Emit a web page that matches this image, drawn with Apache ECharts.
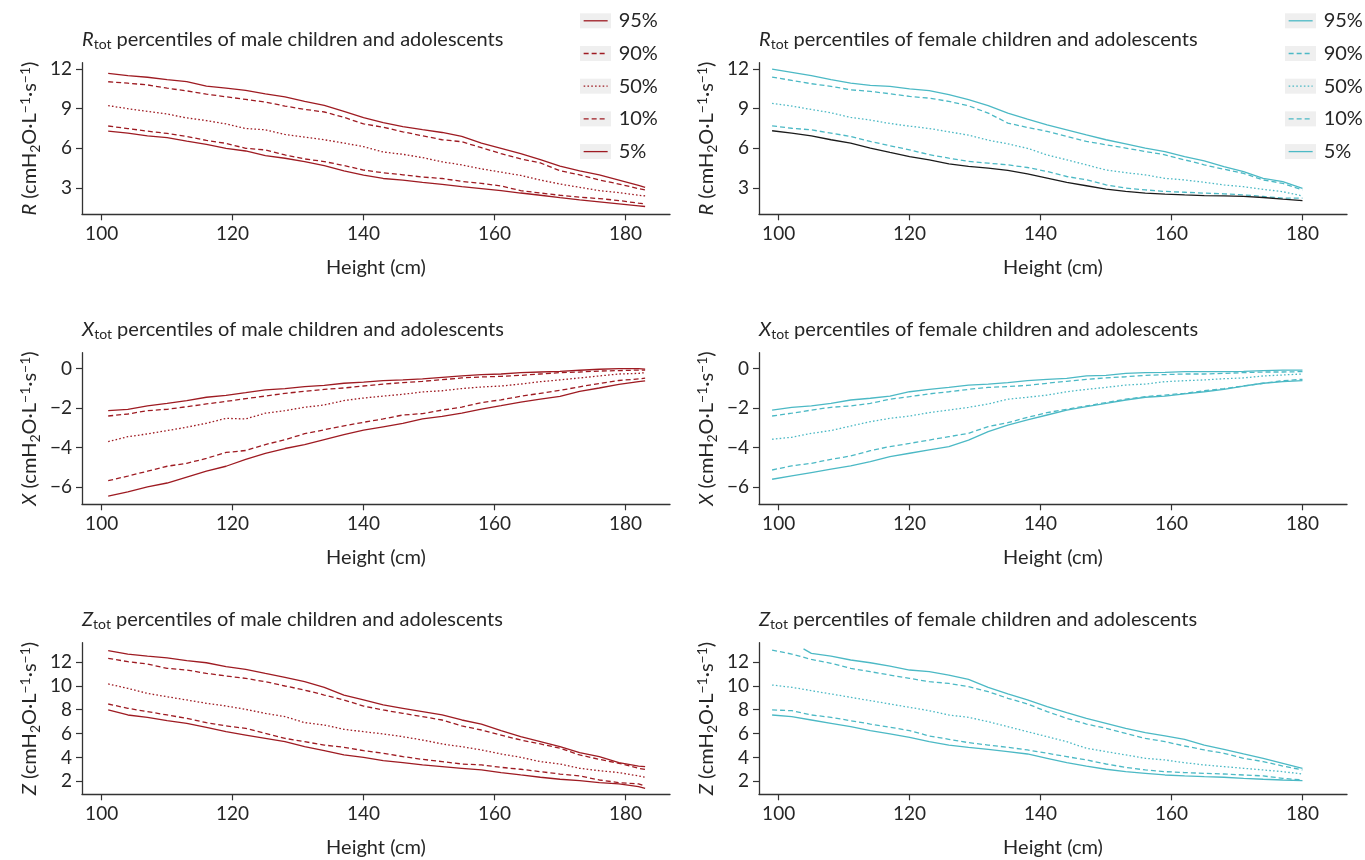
<!DOCTYPE html>
<html><head><meta charset="utf-8">
<script src="https://cdn.jsdelivr.net/npm/echarts@6/dist/echarts.min.js"></script>
<style>html,body{margin:0;padding:0;background:#fff}#c{width:1365px;height:860px}</style>
</head><body><div id="c"></div>
<script>
// ---------------- data ----------------
const heightsMale = [101,104,107,110,113,116,119,122,125,128,131,134,137,140,143,146,149,152,155,158,161,164,167,170,173,176,179,182,183];
const heightsFemale = [99,102,105,108,111,114,117,120,123,126,129,132,135,138,141,144,147,150,153,156,159,162,165,168,171,174,177,180];
const percentiles = ['95%','90%','50%','10%','5%'];
const xTicks = [100,120,140,160,180];
const rTicks = [3,6,9,12];
const xTicksX = [-6,-4,-2,0];
const zTicks = [2,4,6,8,10,12];

const maleR95 = [11.67,11.5,11.38,11.2,11.05,10.7,10.55,10.38,10.12,9.9,9.55,9.25,8.8,8.32,7.95,7.65,7.42,7.2,6.9,6.4,6.0,5.6,5.15,4.66,4.3,4.0,3.6,3.2,3.05];
const maleR90 = [11.04,10.93,10.8,10.55,10.35,10.1,9.9,9.7,9.5,9.2,8.95,8.75,8.35,7.85,7.6,7.25,6.95,6.65,6.5,6.05,5.6,5.2,4.9,4.3,4.0,3.6,3.3,2.95,2.85];
const maleR50 = [9.23,9.0,8.8,8.6,8.3,8.1,7.85,7.5,7.4,7.05,6.85,6.65,6.4,6.13,5.72,5.55,5.3,4.98,4.75,4.45,4.2,3.95,3.6,3.3,3.05,2.8,2.65,2.45,2.4];
const maleR10 = [7.69,7.5,7.3,7.13,6.9,6.6,6.38,6.0,5.88,5.5,5.2,5.0,4.7,4.36,4.15,4.0,3.83,3.72,3.5,3.35,3.15,2.8,2.62,2.45,2.3,2.2,2.05,1.85,1.8];
const maleR5 = [7.31,7.15,6.95,6.81,6.55,6.3,6.0,5.8,5.45,5.25,5.0,4.7,4.3,3.98,3.72,3.6,3.43,3.28,3.1,2.95,2.8,2.62,2.45,2.27,2.1,1.95,1.8,1.65,1.6];

const femaleR95 = [12.0,11.75,11.5,11.2,10.94,10.76,10.69,10.5,10.36,10.06,9.68,9.23,8.67,8.21,7.78,7.4,7.02,6.65,6.34,6.02,5.76,5.38,5.05,4.62,4.24,3.73,3.48,2.97];
const femaleR90 = [11.39,11.14,10.89,10.69,10.43,10.31,10.13,9.93,9.8,9.55,9.22,8.67,7.91,7.58,7.28,6.9,6.52,6.27,6.02,5.76,5.51,5.13,4.75,4.42,4.11,3.61,3.35,2.85];
const femaleR50 = [9.4,9.2,8.94,8.69,8.34,8.14,7.88,7.68,7.5,7.25,7.0,6.62,6.34,6.0,5.5,5.13,4.75,4.36,4.16,3.99,3.73,3.61,3.43,3.23,3.1,2.9,2.72,2.4];
const femaleR10 = [7.7,7.52,7.4,7.15,6.9,6.52,6.2,5.89,5.52,5.26,5.01,4.88,4.75,4.55,4.25,3.87,3.62,3.24,2.99,2.86,2.74,2.68,2.61,2.56,2.48,2.36,2.23,2.23];
const femaleR5 = [7.33,7.15,6.95,6.65,6.39,6.02,5.69,5.38,5.13,4.83,4.63,4.5,4.33,4.07,3.75,3.42,3.17,2.92,2.74,2.61,2.54,2.48,2.43,2.41,2.36,2.28,2.16,2.05];

const maleX95 = [-2.13,-2.06,-1.89,-1.76,-1.62,-1.45,-1.35,-1.22,-1.08,-1.01,-0.91,-0.85,-0.74,-0.68,-0.61,-0.57,-0.52,-0.44,-0.37,-0.3,-0.27,-0.2,-0.17,-0.14,-0.08,-0.03,0.0,0.0,-0.02];
const maleX90 = [-2.4,-2.3,-2.13,-2.06,-1.93,-1.79,-1.66,-1.52,-1.39,-1.25,-1.15,-1.05,-0.98,-0.88,-0.78,-0.71,-0.64,-0.56,-0.47,-0.42,-0.39,-0.34,-0.27,-0.2,-0.17,-0.12,-0.1,-0.07,-0.07];
const maleX50 = [-3.7,-3.45,-3.31,-3.14,-2.97,-2.77,-2.52,-2.55,-2.26,-2.13,-1.96,-1.84,-1.62,-1.49,-1.39,-1.3,-1.18,-1.12,-1.01,-0.93,-0.88,-0.78,-0.66,-0.57,-0.47,-0.37,-0.27,-0.24,-0.2];
const maleX10 = [-5.68,-5.45,-5.2,-4.95,-4.8,-4.55,-4.25,-4.15,-3.85,-3.6,-3.3,-3.1,-2.9,-2.72,-2.55,-2.35,-2.28,-2.1,-1.95,-1.72,-1.58,-1.4,-1.25,-1.1,-0.92,-0.75,-0.6,-0.52,-0.48];
const maleX5 = [-6.46,-6.25,-6.0,-5.8,-5.5,-5.2,-4.95,-4.6,-4.3,-4.05,-3.85,-3.6,-3.35,-3.12,-2.95,-2.78,-2.55,-2.42,-2.25,-2.05,-1.88,-1.7,-1.55,-1.4,-1.15,-0.98,-0.8,-0.66,-0.62];

const femaleX95 = [-2.1,-1.96,-1.89,-1.76,-1.59,-1.5,-1.39,-1.17,-1.05,-0.95,-0.83,-0.78,-0.71,-0.61,-0.54,-0.49,-0.37,-0.34,-0.24,-0.2,-0.19,-0.15,-0.15,-0.15,-0.14,-0.1,-0.07,-0.07];
const femaleX90 = [-2.4,-2.26,-2.1,-1.96,-1.89,-1.76,-1.55,-1.42,-1.28,-1.17,-1.05,-0.95,-0.91,-0.85,-0.74,-0.64,-0.54,-0.47,-0.41,-0.34,-0.3,-0.27,-0.27,-0.24,-0.2,-0.17,-0.17,-0.15];
const femaleX50 = [-3.58,-3.48,-3.28,-3.14,-2.91,-2.69,-2.52,-2.4,-2.23,-2.1,-1.96,-1.79,-1.55,-1.45,-1.34,-1.17,-1.05,-0.95,-0.83,-0.78,-0.66,-0.61,-0.57,-0.51,-0.47,-0.37,-0.32,-0.27];
const femaleX10 = [-5.14,-4.93,-4.8,-4.6,-4.43,-4.16,-3.95,-3.79,-3.62,-3.45,-3.28,-2.94,-2.74,-2.47,-2.23,-2.06,-1.89,-1.72,-1.55,-1.42,-1.34,-1.25,-1.12,-1.01,-0.88,-0.74,-0.61,-0.54];
const femaleX5 = [-5.61,-5.44,-5.27,-5.1,-4.93,-4.72,-4.46,-4.29,-4.12,-3.95,-3.62,-3.19,-2.86,-2.6,-2.35,-2.1,-1.93,-1.76,-1.59,-1.45,-1.39,-1.28,-1.17,-1.05,-0.88,-0.74,-0.66,-0.61];

const maleZ95 = [12.95,12.67,12.5,12.34,12.11,11.94,11.61,11.39,11.05,10.72,10.35,9.88,9.23,8.82,8.4,8.12,7.84,7.56,7.14,6.8,6.25,5.74,5.32,4.9,4.4,4.07,3.56,3.28,3.23];
const maleZ90 = [12.31,12.03,11.83,11.47,11.33,11.05,10.83,10.63,10.35,9.99,9.65,9.23,8.82,8.31,7.98,7.7,7.42,7.14,6.64,6.3,5.88,5.46,5.13,4.77,4.21,3.84,3.51,3.09,3.0];
const maleZ50 = [10.16,9.79,9.37,9.09,8.82,8.54,8.31,8.03,7.7,7.42,6.92,6.72,6.36,6.16,5.97,5.74,5.46,5.13,4.9,4.63,4.29,4.01,3.65,3.45,3.09,2.89,2.73,2.45,2.34];
const maleZ10 = [8.48,8.12,7.84,7.56,7.28,6.92,6.64,6.44,6.02,5.6,5.32,5.04,4.85,4.57,4.35,4.07,3.84,3.65,3.45,3.37,3.17,3.01,2.81,2.61,2.45,2.11,1.89,1.78,1.61];
const maleZ5 = [7.98,7.56,7.36,7.08,6.86,6.53,6.16,5.88,5.6,5.32,4.9,4.57,4.21,4.01,3.73,3.56,3.37,3.23,3.09,2.95,2.73,2.53,2.34,2.17,2.06,1.89,1.78,1.56,1.41];

const femaleZ95Start = [103.8, 13.1];
const femaleZ95 = [null,null,12.73,12.5,12.17,11.94,11.66,11.33,11.19,10.91,10.55,9.88,9.32,8.82,8.26,7.75,7.28,6.86,6.44,6.08,5.8,5.52,5.04,4.68,4.29,3.93,3.51,3.09];
const femaleZ90 = [13.0,12.67,12.22,11.89,11.47,11.19,10.91,10.63,10.35,10.21,9.93,9.51,8.96,8.48,7.84,7.28,6.8,6.44,6.02,5.6,5.32,4.96,4.63,4.35,3.93,3.65,3.28,2.95];
const femaleZ50 = [10.07,9.88,9.6,9.32,9.04,8.76,8.48,8.2,7.92,7.56,7.36,7.0,6.58,6.16,5.74,5.32,4.77,4.49,4.21,3.93,3.79,3.56,3.37,3.23,3.09,2.95,2.81,2.61];
const femaleZ10 = [7.98,7.92,7.56,7.36,7.08,6.8,6.53,6.25,5.8,5.52,5.24,5.04,4.85,4.63,4.35,4.07,3.79,3.45,3.17,2.95,2.81,2.73,2.67,2.61,2.53,2.45,2.25,2.11];
const femaleZ5 = [7.56,7.42,7.14,6.86,6.58,6.25,5.97,5.69,5.32,5.04,4.85,4.68,4.49,4.29,3.93,3.56,3.28,3.01,2.81,2.67,2.53,2.45,2.39,2.34,2.25,2.17,2.11,2.06];

// ---------------- styling ----------------
const FONT = 'Lato';
const FS = 20;       // words
const FSN = 19;      // tick numbers
const RED = '#9e1b22';
const TEAL = '#4cb9c5';
const BLACK = '#1b1b1b';
const TXT = '#262626';
const AX = '#333333';
const dashTypes = ['solid', [5, 3], [1.6, 2.2], [5, 3], 'solid'];

const colLeft = [82, 759];
const gridW = 588;
const rowTop = [62.7, 352.7, 642.7];
const gridH = 151.6;

const panels = [
  {letter:'R', sex:'male',   row:0, col:0, h:heightsMale,   s:[maleR95,maleR90,maleR50,maleR10,maleR5], min:1.01, max:12.48, ticks:rTicks},
  {letter:'R', sex:'female', row:0, col:1, h:heightsFemale, s:[femaleR95,femaleR90,femaleR50,femaleR10,femaleR5], min:1.01, max:12.48, ticks:rTicks, lowColor:BLACK},
  {letter:'X', sex:'male',   row:1, col:0, h:heightsMale,   s:[maleX95,maleX90,maleX50,maleX10,maleX5], min:-6.88, max:0.81, ticks:xTicksX},
  {letter:'X', sex:'female', row:1, col:1, h:heightsFemale, s:[femaleX95,femaleX90,femaleX50,femaleX10,femaleX5], min:-6.88, max:0.81, ticks:xTicksX},
  {letter:'Z', sex:'male',   row:2, col:0, h:heightsMale,   s:[maleZ95,maleZ90,maleZ50,maleZ10,maleZ5], min:0.91, max:13.62, ticks:zTicks},
  {letter:'Z', sex:'female', row:2, col:1, h:heightsFemale, s:[femaleZ95,femaleZ90,femaleZ50,femaleZ10,femaleZ5], min:0.91, max:13.62, ticks:zTicks, lead:{0:femaleZ95Start}}
];

const fmtNum = v => (v < 0 ? '\u2212' + Math.abs(v) : String(v));
const richBase = {
  i:{fontFamily:FONT, fontSize:FS, fontStyle:'italic', fontWeight:'normal', color:TXT, lineHeight:24},
  n:{fontFamily:FONT, fontSize:FS, fontWeight:'normal', color:TXT, lineHeight:24},
  sub:{fontFamily:FONT, fontSize:14, fontWeight:'normal', color:TXT, lineHeight:12, verticalAlign:'bottom'},
  sup:{fontFamily:FONT, fontSize:14, fontWeight:'normal', color:TXT, lineHeight:12, verticalAlign:'top'}
};

const grids = [], xAxes = [], yAxes = [], series = [], titles = [];
panels.forEach((p, i) => {
  const color = p.sex === 'male' ? RED : TEAL;
  grids.push({left: colLeft[p.col], top: rowTop[p.row], width: gridW, height: gridH, containLabel: false});
  xAxes.push({
    type:'value', gridIndex:i, min:97, max:186.8,
    name:'Height (cm)', nameLocation:'middle', nameGap:43,
    nameTextStyle:{fontFamily:FONT, fontSize:FS, color:TXT},
    axisLine:{show:true, onZero:false, lineStyle:{color:AX, width:1.3}},
    axisTick:{show:true, length:6, lineStyle:{color:AX, width:1.2}, customValues:xTicks},
    axisLabel:{fontFamily:FONT, fontSize:FSN, color:TXT, margin:10, customValues:xTicks},
    splitLine:{show:false}
  });
  yAxes.push({
    type:'value', gridIndex:i, min:p.min, max:p.max,
    name:'{i|' + p.letter + '}{n| (cmH}{sub|2}{n|O\u00b7L}{sup|\u22121}{n|\u00b7s}{sup|\u22121}{n|)}',
    nameLocation:'middle', nameGap:40, nameRotate:90,
    nameTextStyle:{fontFamily:FONT, fontSize:FS, color:TXT, rich:richBase},
    axisLine:{show:true, onZero:false, lineStyle:{color:AX, width:1.3}},
    axisTick:{show:true, length:6, lineStyle:{color:AX, width:1.2}, customValues:p.ticks},
    axisLabel:{fontFamily:FONT, fontSize:FSN, color:TXT, margin:10, customValues:p.ticks, formatter:fmtNum},
    splitLine:{show:false}
  });
  titles.push({
    left: colLeft[p.col], top: rowTop[p.row] - 35, padding:0,
    text: '{i|' + p.letter + '}{sub|tot}{n| percentiles of ' + p.sex + ' children and adolescents}',
    textStyle:{fontWeight:'normal', fontFamily:FONT, fontSize:FS, rich:richBase}
  });
  p.s.forEach((vals, k) => {
    const lineColor = (k === 4 && p.lowColor) ? p.lowColor : color;
    const data = [];
    if (p.lead && p.lead[k]) data.push(p.lead[k]);
    p.h.forEach((h, j) => { if (vals[j] !== null) data.push([h, vals[j]]); });
    series.push({
      type:'line', name: percentiles[k], xAxisIndex:i, yAxisIndex:i,
      data, symbol:'none', showSymbol:false, silent:true, animation:false,
      lineStyle:{color:lineColor, width:1.3, type:dashTypes[k]},
      itemStyle:{color:lineColor}
    });
  });
});

const legendStep = 32.7, boxH = 15, boxTop = 13.3, itemH = 20;
const legendFor = (left, color) => ({
  orient:'vertical', left, top: boxTop - (itemH - boxH) / 2, padding:0,
  itemWidth:24, itemHeight:boxH, itemGap:legendStep - itemH,
  selectedMode:false, z:10,
  textStyle:{fontFamily:FONT, fontSize:FS, color:TXT, padding:[0,0,0,6]},
  data: percentiles.map((n, k) => ({name:n, itemStyle:{color, opacity:0}, lineStyle:{color, width:1.3, type:dashTypes[k]}}))
});

const boxes = [];
[580, 1285].forEach(x => percentiles.forEach((n, k) => boxes.push({
  type:'rect', left:x, top:boxTop + k*legendStep, z:1, silent:true,
  shape:{width:31, height:boxH}, style:{fill:'#efefef'}
})));

const chart = echarts.init(document.getElementById('c'), null, {renderer:'canvas'});
chart.setOption({
  backgroundColor:'#ffffff',
  animation:false,
  title: titles,
  grid: grids, xAxis: xAxes, yAxis: yAxes, series,
  legend:[legendFor(583, RED), legendFor(1288, TEAL)],
  graphic: boxes
});
</script></body></html>
